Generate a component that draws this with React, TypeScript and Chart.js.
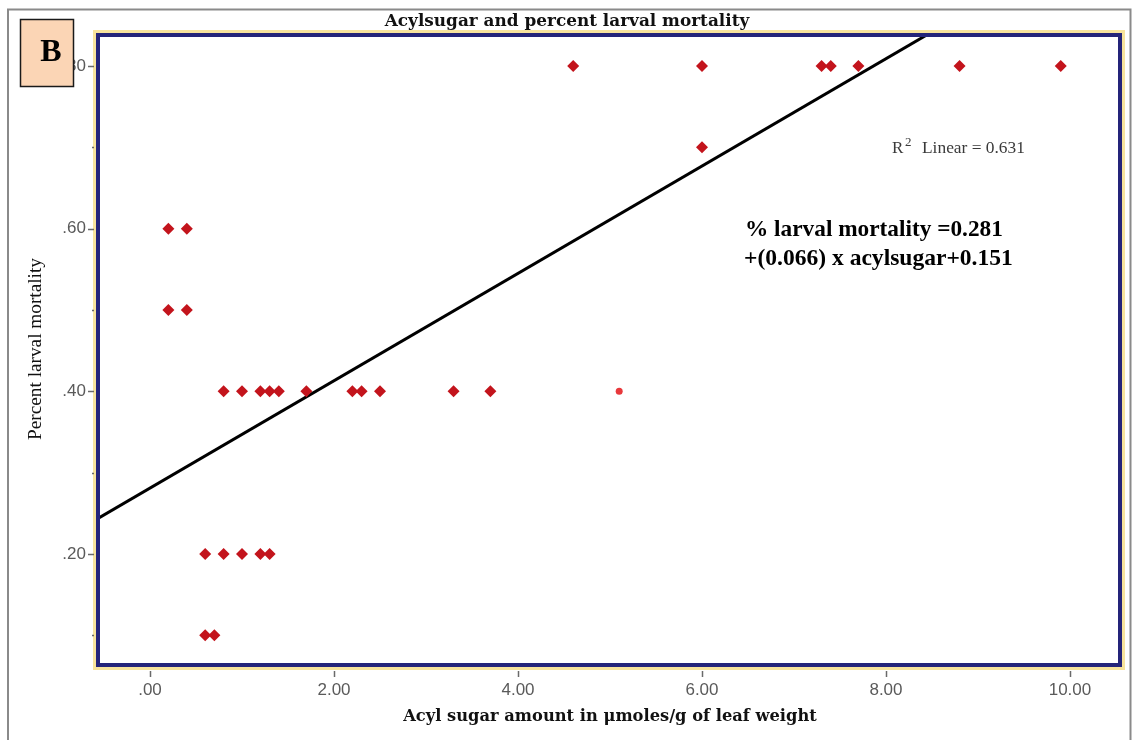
import { useEffect, useRef } from "react";
import { Chart, registerables } from "chart.js";

Chart.register(...registerables);

const WIDTH = 1133;
const HEIGHT = 740;

// Acyl sugar content (µmoles/g leaf weight) and larval mortality per accession
const acylsugar = [
  4.6, 6.0, 7.3, 7.4, 7.7, 8.8, 9.9,
  6.0,
  0.2, 0.4,
  0.2, 0.4,
  0.8, 1.0, 1.2, 1.3, 1.4, 1.7, 2.2, 2.3, 2.5, 3.3, 3.7,
  0.6, 0.8, 1.0, 1.2, 1.3,
  0.6, 0.7,
];
const mortality = [
  0.8, 0.8, 0.8, 0.8, 0.8, 0.8, 0.8,
  0.7,
  0.6, 0.6,
  0.5, 0.5,
  0.4, 0.4, 0.4, 0.4, 0.4, 0.4, 0.4, 0.4, 0.4, 0.4, 0.4,
  0.2, 0.2, 0.2, 0.2, 0.2,
  0.1, 0.1,
];
// single lighter marker
const faintAcylsugar = [5.1];
const faintMortality = [0.4];

// fitted linear regression
const intercept = 0.281;
const slope = 0.066;
const rSquared = 0.631;

const xTicks = [0, 2, 4, 6, 8, 10];
const yTicks = [0.2, 0.4, 0.6, 0.8];
const yMinorTicks = [0.1, 0.3, 0.5, 0.7];
const xRange = [-0.5435, 10.522];
const yRange = [0.066, 0.8357];

const chartTitle = "Acylsugar and percent larval mortality";
const xTitle = "Acyl sugar amount in \u03bcmoles/g of leaf weight";
const yTitle = "Percent larval mortality";
const panelLetter = "B";
const equationLines = [
  `% larval mortality =${intercept.toFixed(3)}`,
  `+(${slope.toFixed(3)}) x acylsugar+0.151`,
];

const SERIF = "'Liberation Serif', 'Times New Roman', serif";
const SERIF_WIDE = "'DejaVu Serif', 'Liberation Serif', serif";
const SANS = "'Liberation Sans', Arial, sans-serif";

const tickLabel = (v: number) => v.toFixed(2).replace(/^0(?=\.)/, "");

function fitFont(ctx: CanvasRenderingContext2D, text: string, weight: string, family: string, width: number) {
  ctx.font = `${weight} 100px ${family}`;
  const w = ctx.measureText(text).width;
  const size = (100 * width) / w;
  ctx.font = `${weight} ${size}px ${family}`;
  return size;
}

const decorations = {
  id: "decorations",
  beforeDraw(chart: any) {
    const ctx: CanvasRenderingContext2D = chart.ctx;
    ctx.save();
    ctx.fillStyle = "#ffffff";
    ctx.fillRect(0, 0, chart.width, chart.height);
    // outer frame
    ctx.strokeStyle = "#8a8a8a";
    ctx.lineWidth = 2;
    ctx.strokeRect(8, 9.5, 1122.5, 760);
    ctx.restore();
  },
  afterDatasetsDraw(chart: any) {
    const ctx: CanvasRenderingContext2D = chart.ctx;
    const a = chart.chartArea;
    const xs = chart.scales.x;
    const ys = chart.scales.y;
    ctx.save();
    // pale yellow outer rim and navy frame of the plot area
    ctx.strokeStyle = "#f7e39c";
    ctx.lineWidth = 3;
    ctx.strokeRect(a.left - 5.5, a.top - 5.5, a.right - a.left + 11, a.bottom - a.top + 11);
    ctx.strokeStyle = "#24247a";
    ctx.lineWidth = 4;
    ctx.strokeRect(a.left - 2, a.top - 2, a.right - a.left + 4, a.bottom - a.top + 4);

    // tick marks
    ctx.strokeStyle = "#6a6a6a";
    ctx.lineWidth = 1.5;
    for (const v of yTicks) {
      const y = Math.round(ys.getPixelForValue(v)) + 0.5;
      ctx.beginPath();
      ctx.moveTo(a.left - 12, y);
      ctx.lineTo(a.left - 6, y);
      ctx.stroke();
    }
    for (const v of yMinorTicks) {
      const y = Math.round(ys.getPixelForValue(v)) + 0.5;
      ctx.beginPath();
      ctx.moveTo(a.left - 8, y);
      ctx.lineTo(a.left - 6, y);
      ctx.stroke();
    }
    for (const v of xTicks) {
      const x = Math.round(xs.getPixelForValue(v)) + 0.5;
      ctx.beginPath();
      ctx.moveTo(x, a.bottom + 8);
      ctx.lineTo(x, a.bottom + 14);
      ctx.stroke();
    }
    ctx.restore();
  },
  afterDraw(chart: any) {
    const ctx: CanvasRenderingContext2D = chart.ctx;
    ctx.save();
    ctx.fillStyle = "#111111";
    ctx.textBaseline = "alphabetic";

    // title
    ctx.textAlign = "center";
    fitFont(ctx, chartTitle, "bold", SERIF_WIDE, 365);
    ctx.fillText(chartTitle, 567, 26);

    // x axis title
    fitFont(ctx, xTitle, "bold", SERIF_WIDE, 414);
    ctx.fillText(xTitle, 610, 721);

    // y axis title
    ctx.save();
    ctx.translate(41, 349);
    ctx.rotate(-Math.PI / 2);
    fitFont(ctx, yTitle, "normal", SERIF, 182);
    ctx.fillText(yTitle, 0, 0);
    ctx.restore();

    // R squared note
    ctx.textAlign = "left";
    ctx.fillStyle = "#3a3a3a";
    ctx.font = `17px ${SERIF}`;
    ctx.fillText("R", 892, 153);
    ctx.font = `13px ${SERIF}`;
    ctx.fillText("2", 905, 146);
    const rText = `Linear = ${rSquared.toFixed(3)}`;
    fitFont(ctx, rText, "normal", SERIF, 103);
    ctx.fillText(rText, 922, 153);

    // regression equation
    ctx.fillStyle = "#000000";
    fitFont(ctx, equationLines[0], "bold", SERIF, 258);
    ctx.fillText(equationLines[0], 745, 236);
    fitFont(ctx, equationLines[1], "bold", SERIF, 269);
    ctx.fillText(equationLines[1], 744, 265);

    // panel letter
    ctx.fillStyle = "#fbd5b5";
    ctx.fillRect(20.5, 19.5, 53, 67);
    ctx.strokeStyle = "#1a1a1a";
    ctx.lineWidth = 1.5;
    ctx.strokeRect(20.5, 19.5, 53, 67);
    ctx.fillStyle = "#000000";
    ctx.textAlign = "center";
    ctx.font = `bold 32px ${SERIF}`;
    ctx.fillText(panelLetter, 51, 61);
    ctx.restore();
  },
};

export default function App() {
  const canvasRef = useRef<HTMLCanvasElement | null>(null);

  useEffect(() => {
    const canvas = canvasRef.current;
    if (!canvas) return;

    const points = acylsugar.map((x, i) => ({ x, y: mortality[i] }));
    const faint = faintAcylsugar.map((x, i) => ({ x, y: faintMortality[i] }));
    const fitLine = [xRange[0] - 0.1, xRange[1] + 0.1].map((x) => ({ x, y: intercept + slope * x }));

    const chart = new Chart(canvas, {
      type: "scatter",
      data: {
        datasets: [
          {
            type: "line",
            data: fitLine,
            borderColor: "#000000",
            borderWidth: 3,
            pointRadius: 0,
            fill: false,
            order: 3,
          } as any,
          {
            data: faint,
            pointStyle: "circle",
            pointRadius: 3.5,
            backgroundColor: "#e8383b",
            borderColor: "#e8383b",
            borderWidth: 0,
            order: 2,
          },
          {
            data: points,
            pointStyle: "rectRot",
            pointRadius: 6,
            backgroundColor: "#c3141c",
            borderColor: "#c3141c",
            borderWidth: 0,
            order: 1,
          },
        ],
      },
      options: {
        responsive: false,
        animation: false,
        devicePixelRatio: 1,
        layout: { padding: { top: 37, right: 15, left: 0, bottom: 0 } },
        plugins: {
          legend: { display: false },
          tooltip: { enabled: false },
          title: { display: false },
        },
        scales: {
          x: {
            type: "linear",
            min: xRange[0],
            max: xRange[1],
            afterFit(scale: any) {
              scale.height = 77;
            },
            afterBuildTicks(scale: any) {
              scale.ticks = xTicks.map((value) => ({ value }));
            },
            grid: { display: false, drawTicks: false },
            border: { display: false },
            ticks: {
              callback: (v: any) => tickLabel(Number(v)),
              font: { family: SANS, size: 17 },
              color: "#5a5a5a",
              padding: 17,
              maxRotation: 0,
              autoSkip: false,
            },
          },
          y: {
            type: "linear",
            min: yRange[0],
            max: yRange[1],
            afterFit(scale: any) {
              scale.width = 100;
            },
            afterBuildTicks(scale: any) {
              scale.ticks = yTicks.map((value) => ({ value }));
            },
            grid: { display: false, drawTicks: false },
            border: { display: false },
            ticks: {
              callback: (v: any) => tickLabel(Number(v)),
              font: { family: SANS, size: 17 },
              color: "#5a5a5a",
              padding: 14,
              autoSkip: false,
            },
          },
        },
      },
      plugins: [decorations],
    });

    return () => chart.destroy();
  }, []);

  return (
    <div style={{ position: "absolute", left: 0, top: 0, width: WIDTH, height: HEIGHT, background: "#ffffff" }}>
      <canvas ref={canvasRef} width={WIDTH} height={HEIGHT} style={{ display: "block", width: WIDTH, height: HEIGHT }} />
    </div>
  );
}
